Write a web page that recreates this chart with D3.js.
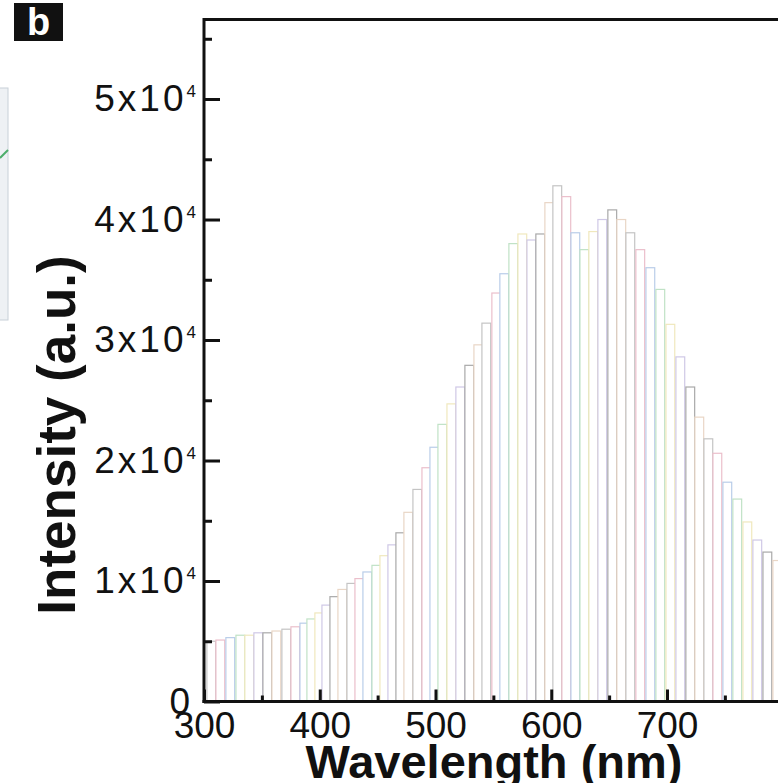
<!DOCTYPE html>
<html>
<head>
<script src="https://cdn.jsdelivr.net/npm/d3@7"></script>
<style>
  body { margin: 0; background: #fff; }
  svg { display: block; }
</style>
</head>
<body>
<script>
// bar centres (nm) and heights (a.u.)
var wavelengths = [306.3, 314.1, 322.7, 331.4, 339.1, 346.9, 354.7, 362.5, 371.1, 378.9,
  386.7, 392.7, 399.6, 405.7, 412.6, 419.5, 427.3, 434.2, 441.1, 448.9,
  455.8, 462.7, 469.6, 476.5, 484.3, 492.1, 499.0, 505.9, 513.7, 521.4,
  529.2, 537.0, 543.9, 552.5, 559.4, 567.2, 575.0, 582.8, 590.5, 598.3,
  605.2, 613.0, 620.8, 628.6, 636.3, 644.1, 652.7, 660.5, 668.3, 676.9,
  685.6, 694.2, 702.9, 711.5, 720.1, 727.9, 735.7, 743.5, 752.1, 760.7,
  769.4, 778.0, 786.7, 795.3];
var intensities = [5000, 5100, 5300, 5500, 5500, 5700, 5700, 5850, 6000, 6200,
  6500, 6850, 7350, 8000, 8700, 9300, 9800, 10200, 10750, 11300,
  12100, 13000, 14000, 15700, 17600, 19400, 21100, 23000, 24700, 26100,
  27900, 29600, 31400, 33900, 35500, 38000, 38800, 38300, 38800, 41400,
  42800, 41900, 38900, 37500, 39000, 40000, 40800, 40000, 38900, 37500,
  36000, 34200, 31300, 28600, 26100, 23600, 21800, 20600, 18200, 16800,
  14900, 13400, 12400, 11700];

var xTickValues = [300, 400, 500, 600, 700];
var xMinorTicks = [350, 450, 550, 650, 750];
var yTickValues = [0, 10000, 20000, 30000, 40000, 50000];
var yTickMantissa = ["0", "1", "2", "3", "4", "5"];
var yMinorTicks = [5000, 15000, 25000, 35000, 45000, 55000];

var barColors = ["#c4c4c4", "#ebbfcb", "#b9cde9", "#c0e2c6", "#f0e8bd", "#cfc8e6", "#a9a9a9", "#e9d6c6"];

var W = 778, H = 783;
var svg = d3.select("body").append("svg").attr("width", W).attr("height", H);

var x = d3.scaleLinear().domain([300, 820]).range([204, 204 + 1.1575 * 520]);
var y = d3.scaleLinear().domain([0, 56600]).range([701.5, 19.5]);
var barW = 7.6;

// bit of the neighbouring panel on the far left
svg.append("rect").attr("x", -4).attr("y", 88).attr("width", 12).attr("height", 232)
  .attr("fill", "#eef1f4").attr("stroke", "#c8d0d8");
svg.append("path").attr("d", "M0,158 L8,150").attr("stroke", "#4cae6a").attr("stroke-width", 2);

// bars
svg.append("g").selectAll("rect")
  .data(wavelengths)
  .enter().append("rect")
  .attr("x", function(d) { return x(d - barW / 2); })
  .attr("width", function(d) { return x(d + barW / 2) - x(d - barW / 2); })
  .attr("y", function(d, i) { return y(intensities[i]); })
  .attr("height", function(d, i) { return y(0) - y(intensities[i]); })
  .attr("fill", "#fff")
  .attr("stroke", function(d, i) { return barColors[i % barColors.length]; })
  .attr("stroke-width", 1.2);

// frame
svg.append("line").attr("x1", 204).attr("x2", W).attr("y1", 19.5).attr("y2", 19.5)
  .attr("stroke", "#111").attr("stroke-width", 3);
svg.append("line").attr("x1", 204).attr("x2", 204).attr("y1", 18).attr("y2", 703)
  .attr("stroke", "#111").attr("stroke-width", 3);
svg.append("line").attr("x1", 202.5).attr("x2", W).attr("y1", 701.5).attr("y2", 701.5)
  .attr("stroke", "#111").attr("stroke-width", 3);

// x axis
var gx = svg.append("g").attr("transform", "translate(0,701.5)")
  .call(d3.axisBottom(x).tickValues(xTickValues).tickSize(-12).tickPadding(10));
svg.append("g").attr("transform", "translate(0,701.5)")
  .call(d3.axisBottom(x).tickValues(xMinorTicks).tickSize(-6).tickFormat(""));

// y axis
var gy = svg.append("g").attr("transform", "translate(204,0)")
  .call(d3.axisLeft(y).tickValues(yTickValues).tickSize(-16).tickPadding(8)
    .tickFormat(function() { return ""; }));
svg.append("g").attr("transform", "translate(204,0)")
  .call(d3.axisLeft(y).tickValues(yMinorTicks).tickSize(-8).tickFormat(""));

svg.selectAll(".domain").remove();
svg.selectAll(".tick line").attr("stroke", "#111").attr("stroke-width", 3);

gx.selectAll("text").attr("font-family", "Liberation Sans, Arial, sans-serif")
  .attr("font-size", 37).attr("fill", "#111");

gy.selectAll(".tick text").each(function(d, i) {
  var t = d3.select(this)
    .attr("font-family", "Liberation Sans, Arial, sans-serif")
    .attr("font-size", 37).attr("fill", "#111");
  if (d === 0) {
    t.attr("x", -14).text(yTickMantissa[i]);
  } else {
    t.append("tspan").attr("letter-spacing", 3).text(yTickMantissa[i] + "x10");
    t.append("tspan").attr("font-size", 17).attr("dy", -14).text("4");
  }
});

// axis titles
svg.append("text").attr("x", 494).attr("y", 778).attr("text-anchor", "middle")
  .attr("font-family", "Liberation Sans, Arial, sans-serif").attr("font-weight", "bold")
  .attr("font-size", 47).attr("fill", "#111").text("Wavelength (nm)");
svg.append("text").attr("transform", "translate(75,435) rotate(-90)").attr("text-anchor", "middle")
  .attr("font-family", "Liberation Sans, Arial, sans-serif").attr("font-weight", "bold")
  .attr("font-size", 53).attr("fill", "#111").text("Intensity (a.u.)");

// panel letter
svg.append("rect").attr("x", 14).attr("y", 3).attr("width", 49).attr("height", 38).attr("fill", "#111");
svg.append("text").attr("x", 38.5).attr("y", 35).attr("text-anchor", "middle")
  .attr("font-family", "Liberation Sans, Arial, sans-serif").attr("font-weight", "bold")
  .attr("font-size", 38).attr("fill", "#fff").text("b");
</script>
</body>
</html>
